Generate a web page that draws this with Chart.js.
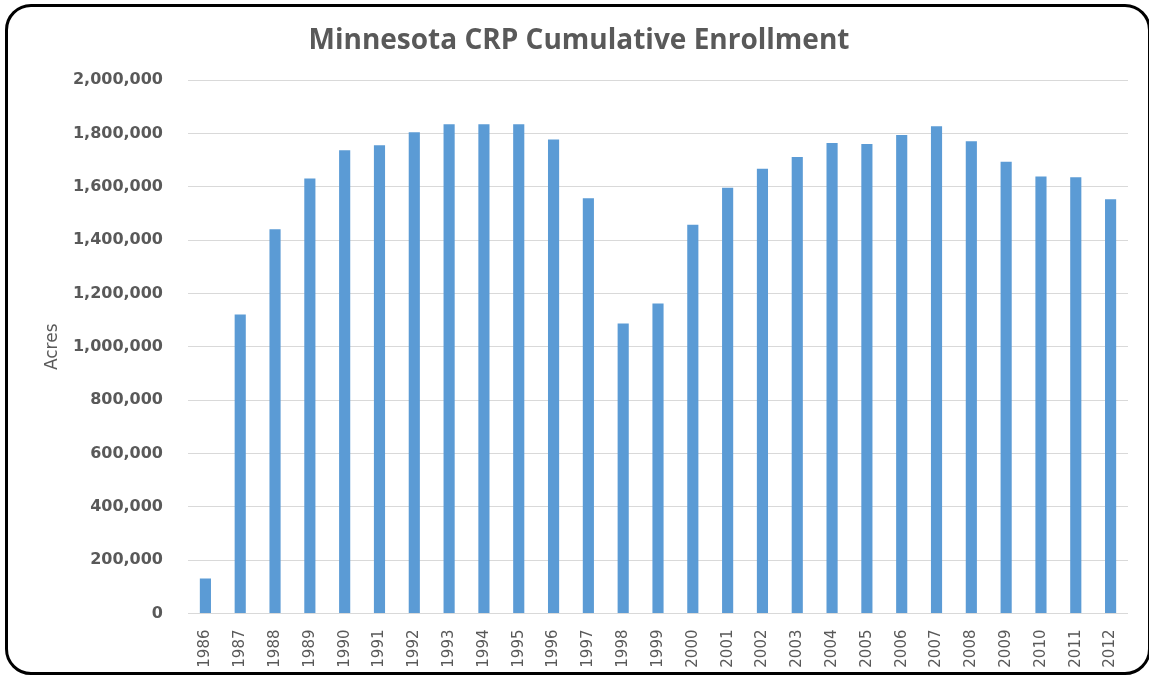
<!DOCTYPE html>
<html>
<head>
<meta charset="utf-8">
<title>Minnesota CRP Cumulative Enrollment</title>
<script src="https://cdn.jsdelivr.net/npm/chart.js@4/dist/chart.umd.min.js"></script>
<style>
  html, body { margin: 0; padding: 0; background: #fff; overflow: hidden; }
  #wrap { position: relative; width: 1149px; height: 675px; }
  #frame {
    position: absolute; left: 5px; top: 4px; width: 1146px; height: 671px;
    box-sizing: border-box; border: 3px solid #000; border-radius: 26px;
    pointer-events: none;
  }
</style>
</head>
<body>
<div id="wrap">
  <canvas id="crp" width="1149" height="675"></canvas>
  <div id="frame"></div>
</div>
<script>
//? Years on the x axis
const years = [
  '1986', '1987', '1988', '1989', '1990', '1991', '1992', '1993', '1994',
  '1995', '1996', '1997', '1998', '1999', '2000', '2001', '2002', '2003',
  '2004', '2005', '2006', '2007', '2008', '2009', '2010', '2011', '2012'
]

//? Cumulative acres enrolled
const acres = [
  131000, 1121000, 1441000, 1631000, 1737000, 1756000, 1804000, 1834000, 1834000,
  1834000, 1777000, 1557000, 1087000, 1162000, 1458000, 1596000, 1668000, 1712000,
  1764000, 1760000, 1794000, 1827000, 1771000, 1694000, 1639000, 1636000, 1553000
]

//? y axis range
const yMin = 0
const yMax = 2000000
const yStep = 200000

const grey = '#595959'

let ctx = document.getElementById('crp').getContext('2d')

chart = new Chart(ctx, {
  type: 'bar',
  data: {
    labels: years,
    datasets: [
      {
        label: 'Acres',
        backgroundColor: '#5B9BD5',
        borderWidth: 0,
        data: acres,
        categoryPercentage: 1,
        barPercentage: 0.32,
      },
    ],
  },
  options: {
    responsive: false,
    animation: false,
    layout: { padding: { left: 30, right: 21, top: 0, bottom: 0 } },
    plugins: {
      legend: { display: false },
      title: {
        display: true,
        text: 'Minnesota CRP Cumulative Enrollment',
        color: grey,
        font: { family: 'Open Sans', size: 28, weight: 'bold' },
        padding: { top: 24, bottom: 22.5 },
      },
    },
    scales: {
      x: {
        grid: { display: false },
        border: { display: false },
        ticks: {
          color: grey,
          font: { family: 'DejaVu Sans', size: 15 },
          minRotation: 90,
          maxRotation: 90,
          padding: 8,
        },
        afterFit: (scale) => { scale.height = 61.5 },
      },
      y: {
        min: yMin,
        max: yMax,
        grid: { color: '#D9D9D9', lineWidth: 1, drawTicks: false },
        border: { display: false },
        ticks: {
          stepSize: yStep,
          color: grey,
          padding: 25,
          font: { family: 'DejaVu Sans', size: 16, weight: 'bold' },
          callback: (v) => v.toLocaleString('en-US'),
        },
        title: {
          display: true,
          text: 'Acres',
          color: grey,
          font: { family: 'DejaVu Sans', size: 17 },
          padding: { top: 12, bottom: 0 },
        },
        afterFit: (scale) => { scale.width = 158 },
      },
    },
  },
})
</script>
</body>
</html>
